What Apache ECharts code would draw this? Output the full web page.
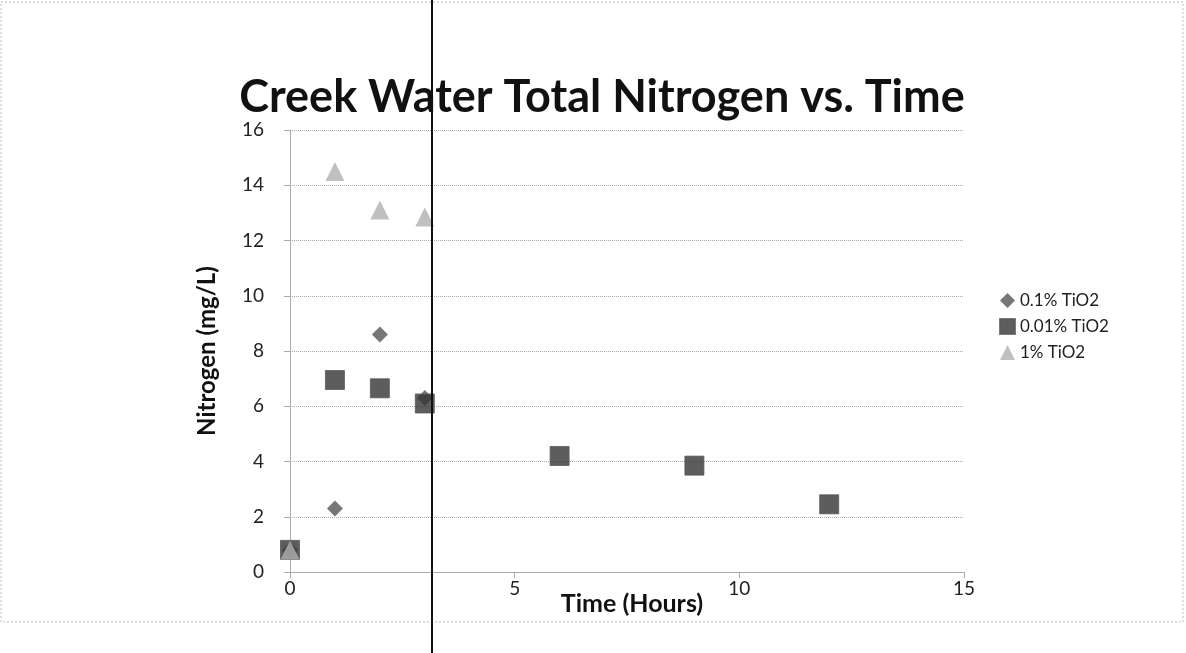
<!DOCTYPE html>
<html><head><meta charset="utf-8">
<script src="https://cdn.jsdelivr.net/npm/echarts@6/dist/echarts.min.js"></script>
<style>html,body{margin:0;padding:0;background:#fff}#c{width:1186px;height:653px}</style>
</head><body><div id="c"></div>
<script>
var seriesNames = ['0.1% TiO2', '0.01% TiO2', '1% TiO2'];
var timeA = [0, 1, 2, 3];
var nitrogenA = [0.8, 2.3, 8.6, 6.3];
var timeB = [0, 1, 2, 3, 6, 9, 12];
var nitrogenB = [0.8, 6.95, 6.65, 6.1, 4.2, 3.85, 2.45];
var timeC = [0, 1, 2, 3];
var nitrogenC = [0.8, 14.5, 13.1, 12.85];
var xTicks = [0, 5, 10, 15];
var yTicks = [0, 2, 4, 6, 8, 10, 12, 14, 16];

function pairs(xs, ys) { return xs.map(function (x, i) { return [x, ys[i]]; }); }

var font = 'Lato, "Open Sans", sans-serif';
var chart = echarts.init(document.getElementById('c'));
chart.setOption({
  animation: false,
  backgroundColor: '#fff',
  title: {
    text: 'Creek Water Total Nitrogen vs. Time',
    left: 597, top: 70, textAlign: 'center',
    textStyle: { fontFamily: font, fontWeight: 'bold', fontSize: 45, color: '#111' }
  },
  legend: {
    orient: 'vertical', left: 994, top: 287, itemGap: 9,
    itemWidth: 15, itemHeight: 15,
    textStyle: { fontFamily: font, fontSize: 17, color: '#222' },
    data: seriesNames
  },
  grid: { left: 290, right: 222, top: 130, bottom: 81 },
  xAxis: {
    type: 'value', min: 0, max: 15, interval: 5,
    name: 'Time (Hours)', nameLocation: 'middle', nameGap: 19, nameMoveOverlap: false,
    nameTextStyle: { fontFamily: font, fontWeight: 'bold', fontSize: 25, color: '#111', padding: [0, 0, 0, 10] },
    axisLine: { lineStyle: { color: '#aaa' } },
    axisTick: { show: true, length: 6, lineStyle: { color: '#aaa' } },
    axisLabel: { fontFamily: font, fontSize: 19, color: '#222', margin: 7,
      formatter: function (v) { return xTicks.indexOf(v) >= 0 ? String(v) : ''; } },
    splitLine: { show: false }
  },
  yAxis: {
    type: 'value', min: 0, max: 16, interval: 2,
    name: 'Nitrogen (mg/L)', nameLocation: 'middle', nameGap: 71, nameRotate: 90, nameMoveOverlap: false,
    nameTextStyle: { fontFamily: font, fontWeight: 'bold', fontSize: 24, color: '#111' },
    axisLine: { show: true, lineStyle: { color: '#aaa' } },
    axisTick: { show: true, length: 6, inside: false, lineStyle: { color: '#aaa' } },
    axisLabel: { fontFamily: font, fontSize: 19, color: '#222', margin: 26, align: 'right',
      formatter: function (v) { return yTicks.indexOf(v) >= 0 ? String(v) : ''; } },
    splitLine: { show: true, lineStyle: { color: '#aaa', type: 'dotted' } }
  },
  series: [
    { name: seriesNames[0], type: 'scatter', symbol: 'diamond', symbolSize: 16,
      itemStyle: { color: '#555555' }, data: pairs(timeA, nitrogenA) },
    { name: seriesNames[1], type: 'scatter', symbol: 'rect', symbolSize: 19,
      itemStyle: { color: '#353535', borderColor: '#5a5a5a', borderWidth: 1 }, data: pairs(timeB, nitrogenB) },
    { name: seriesNames[2], type: 'scatter', symbol: 'triangle', symbolSize: 19,
      itemStyle: { color: '#b0b0b0' }, data: pairs(timeC, nitrogenC) }
  ],
  graphic: [
    { type: 'rect', shape: { x: 1, y: 2, width: 1182, height: 620 },
      style: { fill: 'none', stroke: '#bbb', lineWidth: 1, lineDash: [2, 2] }, silent: true },
    { type: 'line', shape: { x1: 432, y1: 0, x2: 432, y2: 653 },
      style: { stroke: '#111', lineWidth: 2 }, silent: true, z: 100 }
  ]
});
</script></body></html>
